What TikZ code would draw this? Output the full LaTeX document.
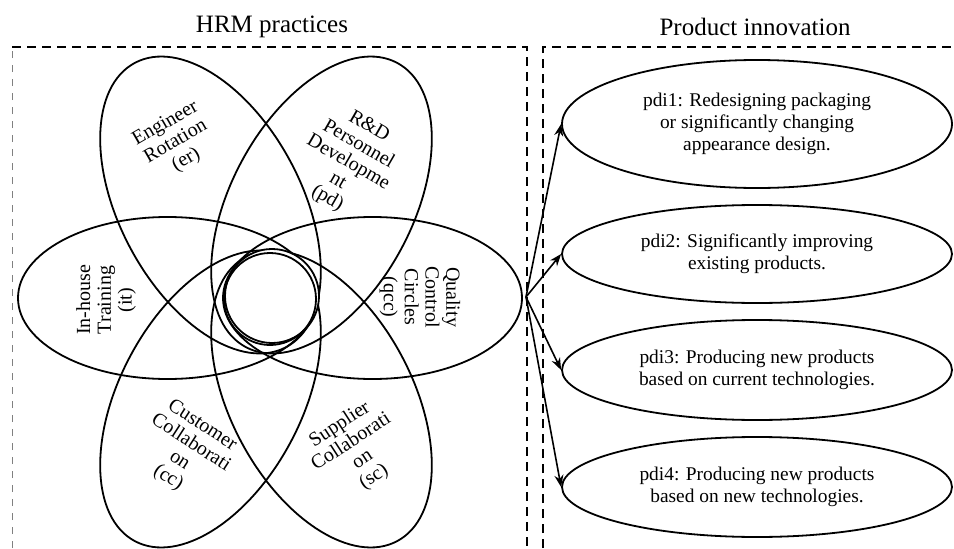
\documentclass[tikz,border=0pt]{standalone}
\usepackage{fontspec}
\setmainfont{Liberation Serif}
\usetikzlibrary{arrows.meta,shapes.geometric}

\begin{document}
\begin{tikzpicture}[x=0.5pt,y=0.5pt,>={Stealth[length=6pt,width=4.5pt]}]

  \tikzstyle{petal}=[draw,line width=0.9pt]

  \tikzstyle{hrm}=[align=center,inner sep=0pt,
    font=\fontsize{10}{10.4}\selectfont]

  \tikzstyle{pdi}=[ellipse,draw,line width=0.9pt,align=center,
    inner sep=0pt,minimum width=195pt,
    font=\fontsize{9.7}{10.9}\selectfont]

  \tikzstyle{title}=[font=\fontsize{12.5}{15}\selectfont]

  \tikzstyle{frame}=[dash pattern=on 4.5pt off 3pt,line width=1pt]
  \tikzstyle{faint}=[dash pattern=on 3.5pt off 3.5pt,line width=0.5pt,draw=gray]

  \useasboundingbox (0,0) rectangle (954,548);

  %% \draw [help lines,step=50] (0,0) grid (954,548);

  % the two boxes
  \draw [faint] (12,0) -- (12,501);
  \draw [frame] (12,501) -- (527,501) -- (527,0);
  \draw [frame] (543,0) -- (543,501) -- (954,501);

  \node  (hrmt)  at (272,521)  [title]  {HRM practices};
  \node  (pdit)  at (755,521)  [title]  {Product innovation};

  % the six petals
  \draw [petal] (167.5,250) ellipse [x radius=149.5, y radius=81];
  \draw [petal] (372.5,250) ellipse [x radius=149.5, y radius=81];
  \draw [petal] (210.5,343) ellipse [x radius=91, y radius=161, rotate=28];
  \draw [petal] (321.5,343) ellipse [x radius=91, y radius=161, rotate=-28];
  \draw [petal] (210.5,149) ellipse [x radius=91, y radius=161, rotate=-28];
  \draw [petal] (321.5,149) ellipse [x radius=91, y radius=161, rotate=28];

  % the core
  \draw [petal,fill=white] (272,252) circle [radius=47];
  \draw [petal]            (270,249) circle [radius=46];

  \node  (it)   at (106,248)  [hrm,rotate=90]
         {In-house\\Training\\(it)};
  \node  (qcc)  at (420,251)  [hrm,rotate=-90]
         {Quality\\Control\\Circles\\(qcc)};
  \node  (er)   at (176,406)  [hrm,rotate=30]
         {Engineer\\Rotation\\(er)};
  \node  (pd)   at (348,385)  [hrm,rotate=-30]
         {R\&D\\Personnel\\Developme\\nt\\(pd)};
  \node  (cc)   at (185,96)   [hrm,rotate=-33]
         {Customer\\Collaborati\\on\\(cc)};
  \node  (sc)   at (357,97)   [hrm,rotate=33]
         {Supplier\\Collaborati\\on\\(sc)};

  % product innovation
  \node  (pdi1)  at (757,424)  [pdi,minimum height=64pt]
         {pdi1: Redesigning packaging\\or significantly changing\\appearance design.};
  \node  (pdi2)  at (757,294)  [pdi,minimum height=49pt]
         {pdi2: Significantly improving\\existing products.};
  \node  (pdi3)  at (757,178)  [pdi,minimum height=50pt]
         {pdi3: Producing new products\\based on current technologies.};
  \node  (pdi4)  at (757,61)   [pdi,minimum height=50pt]
         {pdi4: Producing new products\\based on new technologies.};

  \coordinate (hub) at (526,251);

  \tikzstyle{link}=[->,line width=0.8pt]

  \path (hub) edge [link] (pdi1.west)
              edge [link] (pdi2.west)
              edge [link] (pdi3.west)
              edge [link] (pdi4.west);

\end{tikzpicture}
\end{document}
